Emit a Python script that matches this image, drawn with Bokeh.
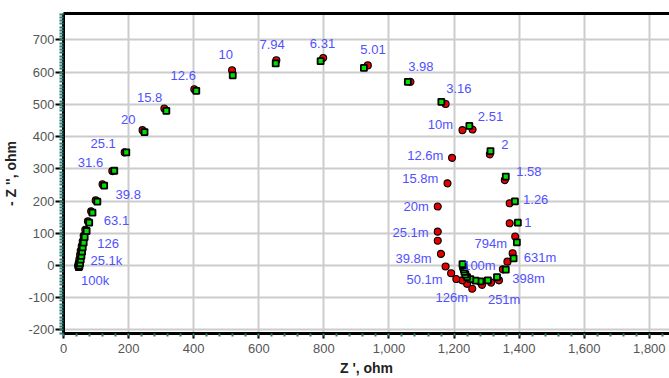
from bokeh.plotting import figure
from bokeh.models import (SingleIntervalTicker, NumeralTickFormatter, LinearAxis,
                          FixedTicker, Range1d, ColumnDataSource)
from bokeh.core.properties import value
from bokeh.embed import file_html
from bokeh.resources import INLINE

# ---- data ----
green_zr = [47, 47, 48, 48, 49, 51, 53, 55, 57, 59, 62, 65, 71, 79, 89, 104, 125, 156, 193,
            249, 316, 408, 520, 652, 790, 923, 1058, 1161, 1247, 1312, 1359, 1387, 1396,
            1393, 1383, 1359, 1332, 1304, 1281, 1266, 1250, 1240, 1235, 1232, 1230, 1228,
            1227, 1226]
green_zi = [-5, -4, -3, -2, -1, 7, 18, 30, 43, 56, 71, 88, 107, 133, 164, 198, 248, 294, 351,
            414, 480, 542, 590, 627, 634, 613, 570, 508, 433, 355, 276, 199, 133,
            72, 22, -13, -36, -46, -49, -47, -42, -36, -28, -20, -12, -5,
            0, 4]

red_zr = [45, 46, 47, 49, 51, 53, 56, 59, 62, 67, 75, 85, 99, 120, 150, 188, 243, 310, 402,
          518, 654, 798, 935, 1066, 1174, 1257, 1310, 1356, 1371, 1371, 1388, 1380, 1364,
          1350, 1338, 1314, 1286, 1256, 1240, 1225, 1207, 1191, 1174, 1160, 1150, 1150,
          1150, 1180, 1194, 1226]
red_zi = [-2, 2, 9, 20, 33, 46, 60, 75, 92, 111, 137, 168, 202, 252, 293, 351, 420, 487, 547,
          606, 637, 644, 621, 570, 501, 422, 345, 265, 193, 131, 90, 38, 12,
          -12, -46, -53, -60, -72, -57, -46, -42, -24, -3, 36, 77, 105,
          183, 255, 334, 420]

freq_labels = ["10", "7.94", "6.31", "5.01", "3.98", "12.6", "15.8", "20", "25.1", "31.6",
               "39.8", "63.1", "126", "25.1k", "100k", "3.16", "10m", "2.51", "2", "12.6m",
               "1.58", "15.8m", "1.26", "20m", "1", "25.1m", "794m", "39.8m", "631m", "100m",
               "50.1m", "398m", "126m", "251m"]
label_zr = [476, 602, 757, 912, 1059, 329, 226, 177, 83, 44,
            160, 124, 104, 83, 54, 1176, 1119, 1273, 1345, 1056,
            1391, 1041, 1412, 1045, 1416, 1011, 1263, 1020, 1414, 1228,
            1054, 1379, 1143, 1304]
label_zi = [655, 686, 690, 671, 619, 590, 521, 454, 379, 319,
            219, 141, 69, 15, -46, 549, 439, 461, 377, 340,
            291, 271, 206, 183, 134, 101, 69, 21, 26, -1,
            -42, -41, -98, -106]

x_start, x_end = 0, 1862
y_start, y_end = -211, 782

FONT = "Liberation Sans"
TEAL = "#2f7a70"

p = figure(width=669, height=378, x_range=Range1d(x_start, x_end), y_range=Range1d(y_start, y_end),
           output_backend="svg", toolbar_location=None,
           min_border_left=63, min_border_top=13, min_border_right=0, min_border_bottom=44,
           x_axis_label="Z ', ohm", y_axis_label="- Z '', ohm")
p.outline_line_color = None
p.background_fill_color = "white"
p.border_fill_color = "white"

xt = SingleIntervalTicker(interval=200, num_minor_ticks=5)
yt = SingleIntervalTicker(interval=100, num_minor_ticks=10)
p.xaxis.ticker = xt
p.yaxis.ticker = yt
p.xgrid.ticker = xt
p.ygrid.ticker = yt
for g in (p.xgrid, p.ygrid):
    g.grid_line_color = "#cccccc"
    g.grid_line_width = 2

for ax in (p.xaxis, p.yaxis):
    ax.axis_line_width = 3
    ax.axis_line_color = "black"
    ax.major_tick_line_color = "black"
    ax.major_tick_line_width = 2
    ax.major_tick_in = 0
    ax.minor_tick_line_color = TEAL
    ax.minor_tick_line_width = 2
    ax.minor_tick_in = 0
    ax.major_label_text_font = FONT
    ax.major_label_text_font_size = "13px"
    ax.major_label_text_color = "#555555"
    ax.axis_label_text_font = FONT
    ax.axis_label_text_font_size = "14px"
    ax.axis_label_text_font_style = "bold"
    ax.axis_label_text_color = "#222222"
    ax.formatter = NumeralTickFormatter(format="0,0")

p.xaxis.major_tick_out = 5
p.xaxis.minor_tick_out = 3
p.xaxis.major_label_standoff = 5
p.xaxis.axis_label_standoff = 4
p.yaxis.major_tick_out = 8
p.yaxis.minor_tick_out = 4
p.yaxis.major_label_standoff = 1
p.yaxis.axis_label_standoff = 6

top = LinearAxis(ticker=FixedTicker(ticks=[]), axis_line_width=3, axis_line_color="black",
                 major_tick_out=0, minor_tick_out=0, major_label_text_font_size="0px",
                 major_label_standoff=0)
p.add_layout(top, "above")

red_src = ColumnDataSource(dict(x=red_zr, y=red_zi))
green_src = ColumnDataSource(dict(x=green_zr, y=green_zi))
lab_src = ColumnDataSource(dict(x=label_zr, y=label_zi, t=freq_labels))

p.scatter("x", "y", source=red_src, marker="circle", size=7, fill_color="#e60000",
          line_color="black", line_width=1.1)
p.scatter("x", "y", source=green_src, marker="square", size=6, fill_color="#00e000",
          line_color="black", line_width=1.8)
p.text("x", "y", text="t", source=lab_src, text_font=value(FONT), text_font_size="13px",
       text_color="#5050ff", text_align="left", text_baseline="middle")

open("out.html", "w").write(file_html(p, INLINE))
